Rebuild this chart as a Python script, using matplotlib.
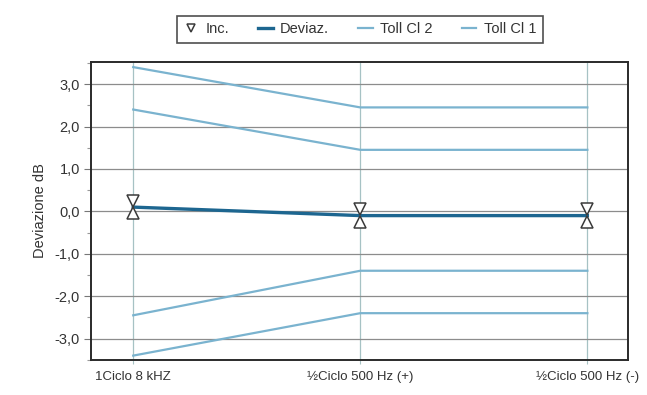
import matplotlib

matplotlib.use("Agg")
import matplotlib.pyplot as plt
from matplotlib.ticker import FixedLocator, FuncFormatter, MultipleLocator

# --- data ------------------------------------------------------------------
categories = ["1Ciclo 8 kHZ", "½Ciclo 500 Hz (+)", "½Ciclo 500 Hz (-)"]
deviaz = [0.1, -0.1, -0.1]
inc_upper = [0.25, 0.05, 0.05]
inc_lower = [-0.05, -0.25, -0.25]
toll_cl2_upper = [2.4, 1.45, 1.45]
toll_cl2_lower = [-2.45, -1.4, -1.4]
toll_cl1_upper = [3.4, 2.45, 2.45]
toll_cl1_lower = [-3.4, -2.4, -2.4]
y_ticks = [-3.0, -2.0, -1.0, 0.0, 1.0, 2.0, 3.0]

TOLL_COLOR = "#7ab3cf"
DEV_COLOR = "#1d6690"
TEXT = "#333333"

plt.rcParams["font.family"] = ["Liberation Sans", "DejaVu Sans"]

fig = plt.figure(figsize=(6.47, 3.95), dpi=100)
ax = fig.add_axes([0.141, 0.089, 0.830, 0.754])

x = list(range(len(categories)))

ax.plot(x, toll_cl1_upper, color=TOLL_COLOR, lw=1.6, zorder=3, label="Toll Cl 1")
ax.plot(x, toll_cl1_lower, color=TOLL_COLOR, lw=1.6, zorder=3)
ax.plot(x, toll_cl2_upper, color=TOLL_COLOR, lw=1.6, zorder=3, label="Toll Cl 2")
ax.plot(x, toll_cl2_lower, color=TOLL_COLOR, lw=1.6, zorder=3)

ax.plot(x, deviaz, color=DEV_COLOR, lw=2.4, zorder=4, label="Deviaz.")

# uncertainty ends: hourglass of two triangles meeting at the line
ax.plot(x, inc_upper, ls="none", marker="v", ms=8.5, mfc="white",
        mec="#3a3a3a", mew=1.1, zorder=5, label="Inc.")
ax.plot(x, inc_lower, ls="none", marker="^", ms=8.5, mfc="white",
        mec="#3a3a3a", mew=1.1, zorder=5)

ax.set_xlim(-0.185, 2.18)
ax.set_ylim(-3.5, 3.52)

ax.xaxis.set_major_locator(FixedLocator(x))
ax.set_xticklabels(categories)
ax.yaxis.set_major_locator(FixedLocator(y_ticks))
ax.yaxis.set_minor_locator(MultipleLocator(0.5))
ax.yaxis.set_major_formatter(FuncFormatter(lambda v, _: f"{v:.1f}".replace(".", ",")))

ax.grid(axis="y", which="major", color="#8c8c8c", lw=0.9, zorder=1)
ax.grid(axis="x", which="major", color="#a6c2c4", lw=0.9, zorder=1)

ax.tick_params(axis="y", which="major", length=5, width=0.8, colors="#777777",
               labelcolor=TEXT, labelsize=10.5, pad=3)
ax.tick_params(axis="y", which="minor", length=3, width=0.8, colors="#999999")
ax.tick_params(axis="x", length=3, colors="#a6c2c4", labelcolor=TEXT,
               labelsize=9.5, pad=5)

for side in ax.spines.values():
    side.set_color("#2a2a2a")
    side.set_linewidth(1.4)

ax.set_ylabel("Deviazione dB", color=TEXT, fontsize=10.5, labelpad=6)

handles, labels = ax.get_legend_handles_labels()
order = [3, 2, 1, 0]
leg = ax.legend([handles[i] for i in order], [labels[i] for i in order],
                loc="lower center", bbox_to_anchor=(0.5, 1.04), ncol=4,
                frameon=True, fancybox=False, edgecolor="#222222",
                fontsize=10.5, handlelength=1.0, handletextpad=0.5,
                columnspacing=2.0, borderpad=0.45, markerscale=0.7)
leg.get_frame().set_linewidth(1.2)
for t in leg.get_texts():
    t.set_color(TEXT)

fig.savefig("out.png", dpi=100, facecolor="white")
